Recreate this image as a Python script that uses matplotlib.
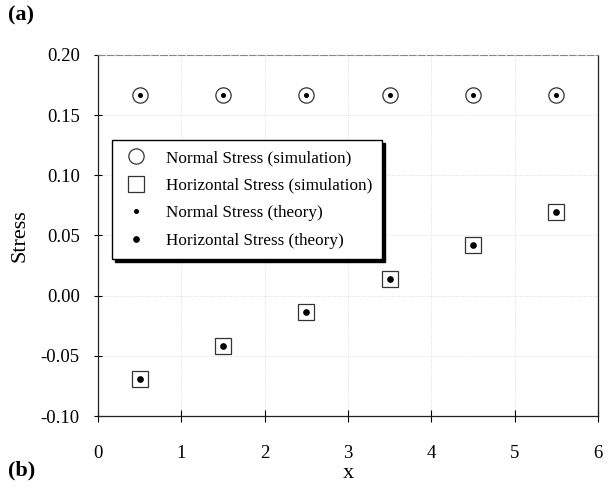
import matplotlib
matplotlib.use("Agg")
import matplotlib.pyplot as plt

plt.rcParams['font.family'] = ['Liberation Serif', 'DejaVu Serif']

# Sample positions along x and stresses
x_pos = [0.5, 1.5, 2.5, 3.5, 4.5, 5.5]
normal_sim = [0.1667, 0.1667, 0.1667, 0.1667, 0.1667, 0.1667]
horiz_sim = [-0.0694, -0.0417, -0.0139, 0.0139, 0.0417, 0.0694]
normal_theory = [0.1667, 0.1667, 0.1667, 0.1667, 0.1667, 0.1667]
horiz_theory = [-0.0694, -0.0417, -0.0139, 0.0139, 0.0417, 0.0694]

x_ticks = [0, 1, 2, 3, 4, 5, 6]
y_ticks = [-0.10, -0.05, 0.00, 0.05, 0.10, 0.15, 0.20]
y_ticklabels = ['-0.10', '-0.05', '0.00', '0.05', '0.10', '0.15', '0.20']

fig = plt.figure(figsize=(6.12, 4.90), dpi=100)
ax = fig.add_axes([0.160, 0.151, 0.817, 0.737])

ax.plot(x_pos, normal_sim, linestyle='none', marker='o', markersize=11,
        markerfacecolor='none', markeredgecolor='#333333', markeredgewidth=0.9,
        label='Normal Stress (simulation)')
ax.plot(x_pos, horiz_sim, linestyle='none', marker='s', markersize=11,
        markerfacecolor='none', markeredgecolor='#333333', markeredgewidth=0.9,
        label='Horizontal Stress (simulation)')
ax.plot(x_pos, normal_theory, linestyle='none', marker='o', markersize=2.6,
        color='black', label='Normal Stress (theory)')
ax.plot(x_pos, horiz_theory, linestyle='none', marker='o', markersize=3.8,
        color='black', label='Horizontal Stress (theory)')

ax.set_xlim(0, 6)
ax.set_ylim(-0.10, 0.20)
ax.set_xticks(x_ticks)
ax.set_yticks(y_ticks)
ax.set_yticklabels(y_ticklabels)

ax.grid(True, color='#d4d4d4', linestyle=':', linewidth=0.6)
ax.set_axisbelow(True)

for side in ['left', 'right', 'bottom']:
    ax.spines[side].set_linewidth(0.9)
    ax.spines[side].set_color('#222222')
ax.spines['top'].set_linewidth(0.8)
ax.spines['top'].set_color('#888888')
ax.spines['top'].set_linestyle((0, (6, 2)))

ax.tick_params(axis='x', direction='inout', length=8, width=0.8,
               labelsize=13.5, pad=17)
ax.tick_params(axis='y', direction='inout', length=6, width=0.8,
               labelsize=13.5, pad=10)

ax.set_xlabel('x', fontsize=16, labelpad=1)
ax.set_ylabel('Stress', fontsize=16, labelpad=8)

leg = ax.legend(loc='upper left', bbox_to_anchor=(0.028, 0.765),
                fontsize=12.3, frameon=True, fancybox=False,
                shadow={'color': 'black', 'alpha': 1.0},
                borderpad=0.6, labelspacing=0.68, handletextpad=0.95,
                handlelength=1.6, borderaxespad=0)
leg.get_frame().set_edgecolor('black')
leg.get_frame().set_linewidth(1.0)

fig.text(0.013, 0.968, '(a)', fontsize=16, fontweight='bold', va='center')
fig.text(0.013, 0.040, '(b)', fontsize=16, fontweight='bold', va='center')

fig.savefig('out.png', dpi=100)
